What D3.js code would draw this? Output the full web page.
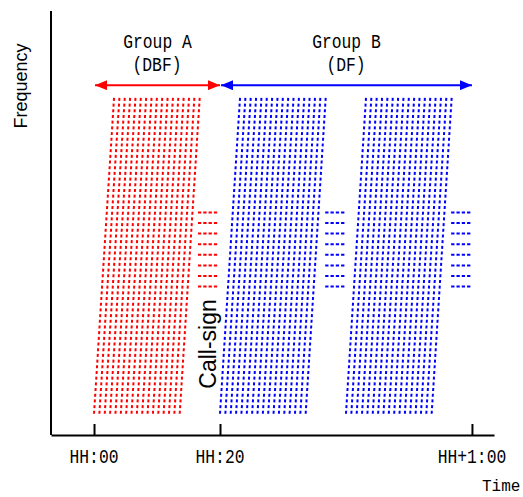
<!DOCTYPE html>
<html><head><meta charset="utf-8">
<script src="https://cdn.jsdelivr.net/npm/d3@7"></script>
<style>body{margin:0;background:#fff}svg{display:block}</style>
</head><body>
<script>
// ---- data ----
const tickMinutes = [0, 20, 60];
const tickLabels = ["HH:00", "HH:20", "HH+1:00"];
const groupNames = ["Group A", "Group B"];
const groupSubs = ["(DBF)", "(DF)"];
const groupColors = ["#ff0000", "#0000ff"];
const groupSpans = [[0, 20], [20, 60]];          // minutes, arrow extents
const blockStarts = [0, 20, 40];                 // minutes
const blockColors = ["#ff0000", "#0000ff", "#0000ff"];
const lineOffsets = [0, 0.85, 1.7, 2.55, 3.4, 4.25, 5.1, 5.95, 6.8, 7.65, 8.5, 9.35, 10.2, 11.05, 11.9, 12.75, 13.6]; // minutes
const sweepShift = 3.2;                          // minutes drift from low to high freq
const freqLow = 2, freqHigh = 32;
const callsignStart = [16.5, 36.7, 56.7];        // minutes
const callsignLen = 3.2;
const callsignFreqs = [14, 15, 16, 17, 18, 19, 20, 21];
const arrowFreq = 33;

const W = 523, H = 497;
const svg = d3.select("body").append("svg").attr("width", W).attr("height", H);

const x = d3.scaleLinear().domain([-6.83, 63.5]).range([51, 494]);
const y = d3.scaleLinear().domain([0, 40]).range([435, 11]);

const mono = "'Liberation Mono', 'DejaVu Sans Mono', monospace";
const sans = "'Liberation Sans', Arial, sans-serif";
const charW = 9.8;

function monoText(tx, ty, str, anchor) {
  svg.append("text").attr("x", tx).attr("y", ty)
    .attr("text-anchor", anchor || "middle")
    .attr("font-family", mono).attr("font-size", 20).attr("fill", "#000")
    .attr("textLength", str.length * charW).attr("lengthAdjust", "spacingAndGlyphs")
    .text(str);
}

// dashed sweep lines
blockStarts.forEach((s, bi) => {
  svg.append("g").selectAll("line").data(lineOffsets).join("line")
    .attr("x1", d => x(s + d)).attr("y1", y(freqLow))
    .attr("x2", d => x(s + d + sweepShift)).attr("y2", y(freqHigh))
    .attr("stroke", blockColors[bi]).attr("stroke-width", 2)
    .attr("stroke-dasharray", "3,2.7");
});

// call-sign markers
callsignStart.forEach((s, bi) => {
  svg.append("g").selectAll("line").data(callsignFreqs).join("line")
    .attr("x1", x(s)).attr("x2", x(s + callsignLen))
    .attr("y1", d => y(d)).attr("y2", d => y(d))
    .attr("stroke", blockColors[bi]).attr("stroke-width", 2)
    .attr("stroke-dasharray", "3.3,2");
});

// arrows
const defs = svg.append("defs");
groupColors.forEach((c, i) => {
  ["s", "e"].forEach(k => {
    defs.append("marker").attr("id", `m${k}${i}`)
      .attr("viewBox", "0 0 12 10").attr("refX", k === "e" ? 12 : 0).attr("refY", 5)
      .attr("markerWidth", 12).attr("markerHeight", 10).attr("markerUnits", "userSpaceOnUse")
      .attr("orient", "auto")
      .append("path").attr("d", k === "e" ? "M0,0L12,5L0,10Z" : "M12,0L0,5L12,10Z").attr("fill", c);
  });
});
groupSpans.forEach((sp, i) => {
  svg.append("line").attr("x1", x(sp[0]) + 1).attr("x2", x(sp[1]))
    .attr("y1", y(arrowFreq)).attr("y2", y(arrowFreq))
    .attr("stroke", groupColors[i]).attr("stroke-width", 2)
    .attr("marker-start", `url(#ms${i})`).attr("marker-end", `url(#me${i})`);
  const cx = (x(sp[0]) + x(sp[1])) / 2;
  monoText(cx + 0.5, 48, groupNames[i]);
  monoText(cx, 71, groupSubs[i]);
});

// axes
svg.append("line").attr("x1", x.range()[0]).attr("x2", x.range()[0])
  .attr("y1", y.range()[1]).attr("y2", y.range()[0]).attr("stroke", "#000").attr("stroke-width", 2);
const xAxis = d3.axisBottom(x).tickValues(tickMinutes).tickSizeInner(-11).tickSizeOuter(0)
  .tickFormat((d, i) => tickLabels[i]);
const gx = svg.append("g").attr("transform", `translate(0,${y.range()[0]})`).call(xAxis);
gx.select(".domain").attr("stroke-width", 2);
gx.selectAll(".tick line").attr("stroke-width", 2);
gx.selectAll(".tick text").remove();
tickMinutes.forEach((m, i) => monoText(x(m), 463, tickLabels[i]));

svg.append("text").attr("x", 482).attr("y", 491)
  .attr("font-family", mono).attr("font-size", 16).attr("fill", "#000").text("Time");

svg.append("text").attr("transform", `translate(27,86) rotate(-90)`)
  .attr("text-anchor", "middle").attr("font-family", sans).attr("font-size", 18).text("Frequency");
svg.append("text").attr("transform", `translate(216,344) rotate(-90)`)
  .attr("text-anchor", "middle").attr("font-family", sans).attr("font-size", 23).text("Call-sign");
</script>
</body></html>
